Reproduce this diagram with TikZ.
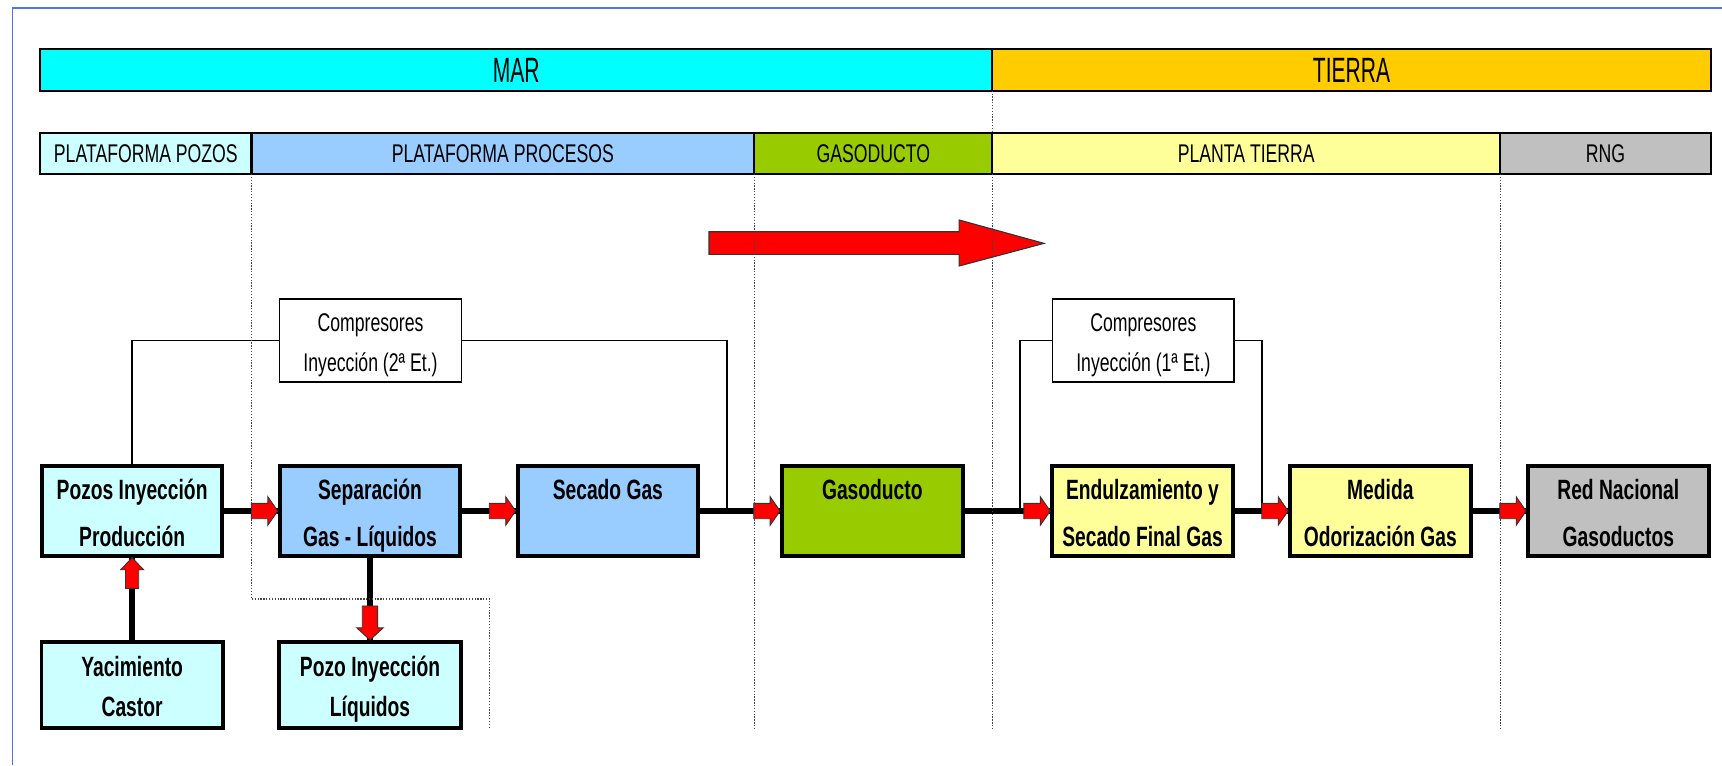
\documentclass[tikz,border=0pt]{standalone}
\usepackage{fontspec}
\setmainfont{Liberation Sans}[FakeStretch=0.69]
\newfontfamily\hdrfont{Liberation Sans}[FakeStretch=0.6]
\usetikzlibrary{calc}

\definecolor{marcyan}{RGB}{0,255,255}
\definecolor{tierraor}{RGB}{255,204,0}
\definecolor{pozoscyan}{RGB}{204,255,255}
\definecolor{procblue}{RGB}{153,204,255}
\definecolor{gasgreen}{RGB}{153,204,0}
\definecolor{plantay}{RGB}{255,255,153}
\definecolor{rnggray}{RGB}{192,192,192}
\definecolor{framec}{RGB}{80,115,230}

\tikzset{
  bar/.style={draw=black, line width=2pt, inner sep=0pt, minimum height=37.7pt},
  hdr/.style={bar, font=\hdrfont\fontsize{32}{38}\selectfont},
  zone/.style={bar, font=\fontsize{23.3}{28}\selectfont},
  proc/.style={draw=black, line width=3.6pt, inner sep=0pt, minimum width=164.4pt, minimum height=81.4pt},
  low/.style={proc, minimum width=165pt, minimum height=78.5pt},
  comp/.style={draw=black, line width=1.5pt, fill=white, inner sep=0pt, minimum width=165.5pt, minimum height=75.5pt},
  btxt/.style={anchor=base, inner sep=0pt, font=\bfseries\fontsize{25.4}{30}\selectfont},
  ctxt/.style={anchor=base, inner sep=0pt, font=\fontsize{23.3}{28}\selectfont},
  flow/.style={line width=5.5pt},
  link/.style={line width=1.5pt},
  divider/.style={draw=gray!55!black, line width=1.2pt, dash pattern=on 1.2pt off 1.4pt},
  redtip/.style={fill=red, draw=black!80, line width=0.8pt, line join=miter},
  arrR/.pic={\path[redtip] (-24,-7) -- (-9,-7) -- (-9,-13) -- (0,0) -- (-9,13) -- (-9,7) -- (-24,7) -- cycle;},
  arrU/.pic={\path[redtip] (-6,28) -- (-6,11) -- (-10.5,11) -- (0,0) -- (10.5,11) -- (6,11) -- (6,28) -- cycle;},
  arrD/.pic={\path[redtip] (-7,-31) -- (-7,-11) -- (-12,-11) -- (0,0) -- (12,-11) -- (7,-11) -- (7,-31) -- cycle;},
}

\begin{document}
\begin{tikzpicture}[x=1pt, y=-1pt]
\useasboundingbox (0,0) rectangle (1568,697);

% page frame
\draw[framec, line width=1.2pt] (11.5,697) -- (11.5,7.3) -- (1568,7.3);

% sea / land header
\node[hdr, fill=marcyan, minimum width=867pt] (mar) at (470.1,63.75) {MAR};
\node[hdr, fill=tierraor, minimum width=654.1pt] (tierra) at (1230.65,63.75) {TIERRA};

% zone header
\node[zone, fill=pozoscyan, minimum width=192.4pt] (zpozos) at (132.8,139.6) {PLATAFORMA POZOS};
\node[zone, fill=procblue, minimum width=457.8pt] (zproc) at (457.9,139.6) {PLATAFORMA PROCESOS};
\node[zone, fill=gasgreen, minimum width=216.8pt] (zgas) at (795.2,139.6) {GASODUCTO};
\node[zone, fill=plantay, minimum width=462.4pt] (zplanta) at (1134.8,139.6) {PLANTA TIERRA};
\node[zone, fill=rnggray, minimum width=191.7pt] (zrng) at (1461.85,139.6) {RNG};

% direction arrow
\path[redtip, line width=1pt] (645.6,211) -- (873.3,211) -- (873.3,200.3) -- (950.7,221.6)
  -- (873.3,242.2) -- (873.3,231.6) -- (645.6,231.6) -- cycle;

% process boxes
\node[proc, fill=pozoscyan] (pozos) at (120.3,465.3) {};
\node[proc, fill=procblue] (sepa) at (336.9,465.3) {};
\node[proc, fill=procblue] (seca) at (553.5,465.3) {};
\node[proc, fill=gasgreen] (gasod) at (794.3,465.3) {};
\node[proc, fill=plantay] (endul) at (1040.3,465.3) {};
\node[proc, fill=plantay] (medida) at (1256.9,465.3) {};
\node[proc, fill=rnggray] (rednac) at (1473.6,465.3) {};
\node[low, fill=pozoscyan] (yac) at (120.3,623.8) {};
\node[low, fill=pozoscyan] (pliq) at (336.9,623.8) {};

\node[btxt] (pozos1) at (120.3,455) {Pozos Inyección};
\node[btxt] (pozos2) at (120.3,497.8) {Producción};
\node[btxt] (sepa1) at (336.9,455) {Separación};
\node[btxt] (sepa2) at (336.9,497.8) {Gas - Líquidos};
\node[btxt] (seca1) at (553.5,455) {Secado Gas};
\node[btxt] (gasod1) at (794.3,455) {Gasoducto};
\node[btxt] (endul1) at (1040.3,455) {Endulzamiento y};
\node[btxt] (endul2) at (1040.3,497.8) {Secado Final Gas};
\node[btxt] (medida1) at (1256.9,455) {Medida};
\node[btxt] (medida2) at (1256.9,497.8) {Odorización Gas};
\node[btxt] (rednac1) at (1473.6,455) {Red Nacional};
\node[btxt] (rednac2) at (1473.6,497.8) {Gasoductos};
\node[btxt] (yac1) at (120.3,616) {Yacimiento};
\node[btxt] (yac2) at (120.3,652.6) {Castor};
\node[btxt] (pliq1) at (336.9,616) {Pozo Inyección};
\node[btxt] (pliq2) at (336.9,652.6) {Líquidos};

% compressor stations
\node[comp] (comp1) at (337.4,310.1) {};
\node[ctxt] (comp1a) at (337.4,302) {Compresores};
\node[ctxt] (comp1b) at (337.4,338.5) {Inyección (2ª Et.)};
\node[comp] (comp2) at (1041.1,310.1) {};
\node[ctxt] (comp2a) at (1041.1,302) {Compresores};
\node[ctxt] (comp2b) at (1041.1,338.5) {Inyección (1ª Et.)};

\coordinate (c1) at (662,465.3);
\coordinate (c2a) at (928.6,465.3);
\coordinate (c2b) at (1149.2,465.3);

\draw[link] (comp1.west) -| (pozos.north);
\draw[link] (comp1.east) -| (c1);
\draw[link] (comp2.west) -| (c2a);
\draw[link] (comp2.east) -| (c2b);

% main gas flow
\draw[flow] (pozos.east) -- (sepa.west);
\draw[flow] (sepa.east) -- (seca.west);
\draw[flow] (seca.east) -- (gasod.west);
\draw[flow] (gasod.east) -- (endul.west);
\draw[flow] (endul.east) -- (medida.west);
\draw[flow] (medida.east) -- (rednac.west);
\draw[flow] (yac.north) -- (pozos.south);
\draw[flow] (sepa.south) -- (pliq.north);

\pic at (sepa.west) {arrR};
\pic at (seca.west) {arrR};
\pic at (gasod.west) {arrR};
\pic at (endul.west) {arrR};
\pic at (medida.west) {arrR};
\pic at (rednac.west) {arrR};
\pic at (pozos.south) {arrU};
\pic at (pliq.north) {arrD};

% zone dividers
\draw[divider] (229,158.4) -- (229,545.5) -- (446,545.5) -- (446,663);
\draw[divider] (686.8,158.4) -- (686.8,663);
\draw[divider] (903.6,82.6) -- (903.6,120.8);
\draw[divider] (903.6,158.4) -- (903.6,663);
\draw[divider] (1366,158.4) -- (1366,663);
\end{tikzpicture}
\end{document}
